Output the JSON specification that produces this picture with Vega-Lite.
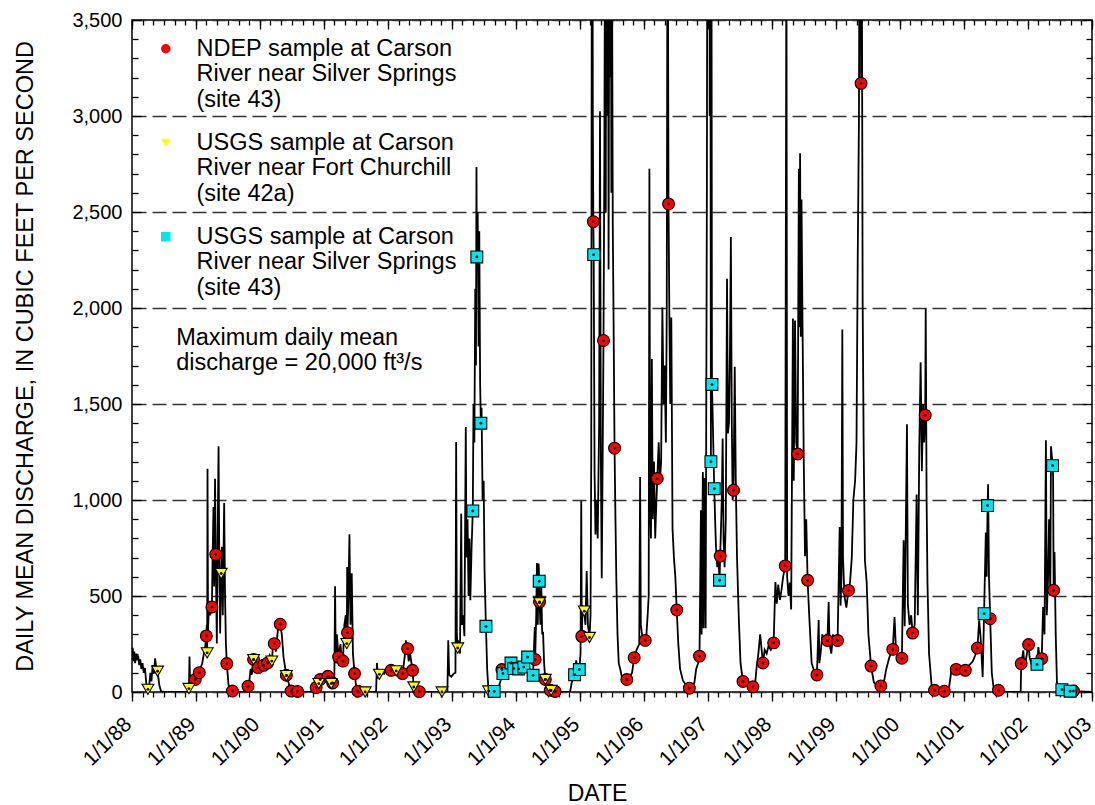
{
  "$schema": "https://vega.github.io/schema/vega-lite/v6.json",
  "width": 960,
  "height": 672,
  "autosize": {"type": "none"},
  "padding": {"left": 132, "top": 20, "right": 3, "bottom": 113},
  "background": "white",
  "config": {
    "font": "Liberation Sans",
    "view": {"stroke": "black", "strokeWidth": 1.5},
    "axis": {"domain": false, "grid": false, "labelFont": "Liberation Sans", "titleFont": "Liberation Sans", "tickColor": "black", "tickWidth": 1.3, "labelColor": "black", "titleColor": "black", "titleFontWeight": "normal", "labelFlush": false, "labelOverlap": false}
  },
  "datasets": {
    "flow": [
      {"d":"1988-01-01","q":182},{"d":"1988-01-05","q":230},{"d":"1988-01-09","q":160},{"d":"1988-01-14","q":210},{"d":"1988-01-19","q":150},{"d":"1988-01-24","q":200},{"d":"1988-01-30","q":165},{"d":"1988-02-05","q":190},{"d":"1988-02-11","q":140},{"d":"1988-02-17","q":170},{"d":"1988-02-23","q":120},{"d":"1988-03-01","q":150},{"d":"1988-03-08","q":100},{"d":"1988-03-15","q":125},{"d":"1988-03-22","q":50},{"d":"1988-03-28","q":15},{"d":"1988-04-01","q":14},{"d":"1988-04-08","q":30},{"d":"1988-04-15","q":100},{"d":"1988-04-21","q":55},{"d":"1988-04-28","q":140},{"d":"1988-05-05","q":95},{"d":"1988-05-12","q":175},{"d":"1988-05-19","q":120},{"d":"1988-05-26","q":108},{"d":"1988-06-05","q":35},{"d":"1988-06-15","q":3},{"d":"1988-07-01","q":0},{"d":"1988-11-15","q":0},{"d":"1988-11-19","q":10},{"d":"1988-11-21","q":18},{"d":"1988-11-24","q":185},{"d":"1988-11-28","q":40},{"d":"1988-12-05","q":30},{"d":"1988-12-12","q":50},{"d":"1988-12-20","q":45},{"d":"1988-12-27","q":65},
      {"d":"1989-01-05","q":80},{"d":"1989-01-12","q":90},{"d":"1989-01-19","q":101},{"d":"1989-01-28","q":130},{"d":"1989-02-05","q":150},{"d":"1989-02-14","q":200},{"d":"1989-02-22","q":240},{"d":"1989-02-28","q":292},{"d":"1989-03-03","q":350},{"d":"1989-03-05","q":204},{"d":"1989-03-07","q":1163},{"d":"1989-03-10","q":320},{"d":"1989-03-15","q":450},{"d":"1989-03-22","q":400},{"d":"1989-04-01","q":443},{"d":"1989-04-05","q":700},{"d":"1989-04-10","q":964},{"d":"1989-04-14","q":550},{"d":"1989-04-19","q":1111},{"d":"1989-04-23","q":717},{"d":"1989-04-29","q":253},{"d":"1989-05-04","q":800},{"d":"1989-05-09","q":1280},{"d":"1989-05-13","q":700},{"d":"1989-05-18","q":305},{"d":"1989-05-24","q":617},{"d":"1989-05-28","q":756},{"d":"1989-06-02","q":400},{"d":"1989-06-10","q":984},{"d":"1989-06-15","q":500},{"d":"1989-06-20","q":250},{"d":"1989-06-25","q":148},{"d":"1989-07-05","q":35},{"d":"1989-07-27","q":5},{"d":"1989-08-15","q":0},{"d":"1989-10-12","q":0},{"d":"1989-10-24","q":30},{"d":"1989-11-01","q":60},{"d":"1989-11-08","q":120},{"d":"1989-11-15","q":90},{"d":"1989-11-25","q":169},{"d":"1989-12-05","q":150},{"d":"1989-12-20","q":127},
      {"d":"1990-01-05","q":145},{"d":"1990-01-21","q":139},{"d":"1990-02-01","q":170},{"d":"1990-02-13","q":151},{"d":"1990-02-25","q":190},{"d":"1990-03-09","q":161},{"d":"1990-03-15","q":230},{"d":"1990-03-23","q":252},{"d":"1990-04-01","q":210},{"d":"1990-04-10","q":300},{"d":"1990-04-19","q":380},{"d":"1990-04-26","q":353},{"d":"1990-05-05","q":300},{"d":"1990-05-15","q":180},{"d":"1990-05-31","q":87},{"d":"1990-06-15","q":40},{"d":"1990-06-27","q":5},{"d":"1990-08-03","q":3},{"d":"1990-09-01","q":0},{"d":"1990-11-08","q":0},{"d":"1990-11-17","q":23},{"d":"1990-11-25","q":40},{"d":"1990-12-02","q":44},{"d":"1990-12-10","q":65},{"d":"1990-12-25","q":70},
      {"d":"1991-01-10","q":60},{"d":"1991-01-23","q":82},{"d":"1991-02-05","q":50},{"d":"1991-02-11","q":44},{"d":"1991-02-19","q":47},{"d":"1991-03-01","q":80},{"d":"1991-03-05","q":551},{"d":"1991-03-09","q":150},{"d":"1991-03-15","q":300},{"d":"1991-03-25","q":182},{"d":"1991-04-05","q":250},{"d":"1991-04-12","q":150},{"d":"1991-04-19","q":161},{"d":"1991-04-27","q":350},{"d":"1991-05-05","q":400},{"d":"1991-05-11","q":252},{"d":"1991-05-13","q":651},{"d":"1991-05-15","q":309},{"d":"1991-05-20","q":500},{"d":"1991-05-26","q":821},{"d":"1991-06-01","q":350},{"d":"1991-06-08","q":618},{"d":"1991-06-15","q":200},{"d":"1991-06-24","q":96},{"d":"1991-07-05","q":20},{"d":"1991-07-13","q":4},{"d":"1991-08-24","q":0},{"d":"1991-10-25","q":0},{"d":"1991-10-30","q":151},{"d":"1991-11-05","q":80},{"d":"1991-11-13","q":92},{"d":"1991-11-25","q":100},{"d":"1991-12-10","q":95},{"d":"1991-12-25","q":125},
      {"d":"1992-01-10","q":105},{"d":"1992-01-19","q":113},{"d":"1992-02-05","q":120},{"d":"1992-02-17","q":110},{"d":"1992-03-05","q":130},{"d":"1992-03-15","q":110},{"d":"1992-03-24","q":96},{"d":"1992-04-05","q":180},{"d":"1992-04-12","q":269},{"d":"1992-04-17","q":200},{"d":"1992-04-22","q":226},{"d":"1992-04-28","q":160},{"d":"1992-05-06","q":200},{"d":"1992-05-20","q":113},{"d":"1992-05-27","q":26},{"d":"1992-06-10","q":5},{"d":"1992-06-28","q":2},{"d":"1992-07-15","q":0},{"d":"1992-12-05","q":0},{"d":"1992-12-10","q":269},{"d":"1992-12-15","q":90},{"d":"1992-12-28","q":80},
      {"d":"1993-01-10","q":95},{"d":"1993-01-20","q":100},{"d":"1993-01-24","q":1302},{"d":"1993-01-28","q":300},{"d":"1993-02-02","q":229},{"d":"1993-02-08","q":269},{"d":"1993-02-15","q":200},{"d":"1993-02-22","q":929},{"d":"1993-02-26","q":350},{"d":"1993-03-05","q":400},{"d":"1993-03-12","q":290},{"d":"1993-03-20","q":1380},{"d":"1993-03-24","q":700},{"d":"1993-03-30","q":900},{"d":"1993-04-05","q":500},{"d":"1993-04-10","q":800},{"d":"1993-04-15","q":478},{"d":"1993-04-22","q":750},{"d":"1993-04-29","q":943},{"d":"1993-05-03","q":1500},{"d":"1993-05-08","q":1300},{"d":"1993-05-13","q":2100},{"d":"1993-05-17","q":1700},{"d":"1993-05-20","q":2734},{"d":"1993-05-22","q":2266},{"d":"1993-05-27","q":2500},{"d":"1993-06-01","q":1800},{"d":"1993-06-05","q":2400},{"d":"1993-06-10","q":1600},{"d":"1993-06-14","q":1400},{"d":"1993-06-18","q":1480},{"d":"1993-06-24","q":1000},{"d":"1993-06-30","q":1100},{"d":"1993-07-05","q":634},{"d":"1993-07-13","q":342},{"d":"1993-07-20","q":120},{"d":"1993-07-28","q":5},{"d":"1993-08-29","q":3},{"d":"1993-09-15","q":0},{"d":"1993-10-05","q":60},{"d":"1993-10-12","q":117},{"d":"1993-10-18","q":96},{"d":"1993-10-28","q":110},{"d":"1993-11-10","q":130},{"d":"1993-11-25","q":140},{"d":"1993-12-03","q":151},{"d":"1993-12-18","q":122},
      {"d":"1994-01-01","q":125},{"d":"1994-01-16","q":120},{"d":"1994-02-01","q":140},{"d":"1994-02-14","q":130},{"d":"1994-02-25","q":160},{"d":"1994-03-08","q":182},{"d":"1994-03-20","q":120},{"d":"1994-04-01","q":100},{"d":"1994-04-08","q":87},{"d":"1994-04-14","q":250},{"d":"1994-04-18","q":339},{"d":"1994-04-20","q":169},{"d":"1994-04-26","q":400},{"d":"1994-04-30","q":672},{"d":"1994-05-05","q":350},{"d":"1994-05-10","q":669},{"d":"1994-05-13","q":577},{"d":"1994-05-15","q":469},{"d":"1994-05-20","q":350},{"d":"1994-05-25","q":547},{"d":"1994-05-30","q":300},{"d":"1994-06-04","q":313},{"d":"1994-06-10","q":150},{"d":"1994-06-17","q":65},{"d":"1994-06-28","q":20},{"d":"1994-07-15","q":9},{"d":"1994-08-12","q":3},{"d":"1994-09-01","q":0},{"d":"1994-11-05","q":0},{"d":"1994-11-15","q":50},{"d":"1994-12-01","q":90},{"d":"1994-12-10","q":165},{"d":"1994-12-20","q":100},{"d":"1994-12-28","q":117},
      {"d":"1995-01-04","q":200},{"d":"1995-01-08","q":995},{"d":"1995-01-11","q":290},{"d":"1995-01-16","q":450},{"d":"1995-01-25","q":421},{"d":"1995-02-01","q":350},{"d":"1995-02-08","q":630},{"d":"1995-02-15","q":350},{"d":"1995-02-24","q":284},{"d":"1995-03-02","q":400},{"d":"1995-03-06","q":1200},{"d":"1995-03-11","q":5500},{"d":"1995-03-15","q":3000},{"d":"1995-03-18","q":2450},{"d":"1995-03-20","q":2278},{"d":"1995-03-25","q":1145},{"d":"1995-03-30","q":820},{"d":"1995-04-05","q":1000},{"d":"1995-04-12","q":800},{"d":"1995-04-20","q":1400},{"d":"1995-04-25","q":3025},{"d":"1995-04-30","q":1200},{"d":"1995-05-05","q":592},{"d":"1995-05-10","q":1200},{"d":"1995-05-15","q":1831},{"d":"1995-05-20","q":2800},{"d":"1995-05-24","q":4200},{"d":"1995-05-28","q":2500},{"d":"1995-06-01","q":5200},{"d":"1995-06-05","q":3000},{"d":"1995-06-09","q":4800},{"d":"1995-06-13","q":2200},{"d":"1995-06-17","q":4000},{"d":"1995-06-21","q":3200},{"d":"1995-06-25","q":4500},{"d":"1995-06-29","q":2600},{"d":"1995-07-03","q":3700},{"d":"1995-07-07","q":2424},{"d":"1995-07-11","q":1993},{"d":"1995-07-17","q":1270},{"d":"1995-07-22","q":915},{"d":"1995-07-27","q":600},{"d":"1995-08-03","q":300},{"d":"1995-08-10","q":150},{"d":"1995-08-20","q":113},{"d":"1995-09-01","q":60},{"d":"1995-09-25","q":65},{"d":"1995-10-10","q":80},{"d":"1995-10-25","q":100},{"d":"1995-11-06","q":179},{"d":"1995-11-20","q":220},{"d":"1995-12-05","q":250},{"d":"1995-12-10","q":1120},{"d":"1995-12-14","q":350},{"d":"1995-12-25","q":270},
      {"d":"1996-01-08","q":269},{"d":"1996-01-15","q":300},{"d":"1996-01-22","q":400},{"d":"1996-01-28","q":500},{"d":"1996-02-01","q":2725},{"d":"1996-02-05","q":1000},{"d":"1996-02-10","q":800},{"d":"1996-02-15","q":1735},{"d":"1996-02-20","q":900},{"d":"1996-02-27","q":1200},{"d":"1996-03-05","q":800},{"d":"1996-03-12","q":1000},{"d":"1996-03-17","q":1112},{"d":"1996-03-25","q":1300},{"d":"1996-04-01","q":1100},{"d":"1996-04-08","q":1200},{"d":"1996-04-15","q":2003},{"d":"1996-04-22","q":1500},{"d":"1996-04-28","q":1700},{"d":"1996-05-05","q":1300},{"d":"1996-05-10","q":2000},{"d":"1996-05-15","q":4500},{"d":"1996-05-20","q":2542},{"d":"1996-05-25","q":1945},{"d":"1996-05-30","q":1500},{"d":"1996-06-05","q":1950},{"d":"1996-06-12","q":850},{"d":"1996-06-20","q":700},{"d":"1996-06-28","q":600},{"d":"1996-07-06","q":427},{"d":"1996-07-15","q":250},{"d":"1996-07-25","q":120},{"d":"1996-08-10","q":60},{"d":"1996-09-01","q":30},{"d":"1996-09-16","q":20},{"d":"1996-10-01","q":20},{"d":"1996-10-15","q":50},{"d":"1996-10-25","q":120},{"d":"1996-11-05","q":150},{"d":"1996-11-13","q":187},{"d":"1996-11-21","q":946},{"d":"1996-11-25","q":300},{"d":"1996-12-02","q":1146},{"d":"1996-12-06","q":332},{"d":"1996-12-12","q":1115},{"d":"1996-12-18","q":332},{"d":"1996-12-25","q":2611},{"d":"1996-12-29","q":5000},
      {"d":"1997-01-02","q":20000},{"d":"1997-01-06","q":8000},{"d":"1997-01-10","q":3000},{"d":"1997-01-13","q":5000},{"d":"1997-01-17","q":1200},{"d":"1997-01-20","q":4200},{"d":"1997-01-23","q":1602},{"d":"1997-01-28","q":1400},{"d":"1997-02-05","q":1059},{"d":"1997-02-10","q":900},{"d":"1997-02-15","q":755},{"d":"1997-02-22","q":650},{"d":"1997-03-01","q":700},{"d":"1997-03-07","q":582},{"d":"1997-03-11","q":708},{"d":"1997-03-20","q":1000},{"d":"1997-03-25","q":1320},{"d":"1997-03-30","q":800},{"d":"1997-04-05","q":650},{"d":"1997-04-12","q":900},{"d":"1997-04-19","q":2152},{"d":"1997-04-24","q":1347},{"d":"1997-04-30","q":1400},{"d":"1997-05-06","q":1800},{"d":"1997-05-11","q":2370},{"d":"1997-05-16","q":1420},{"d":"1997-05-21","q":1000},{"d":"1997-05-26","q":1051},{"d":"1997-06-02","q":1694},{"d":"1997-06-08","q":1100},{"d":"1997-06-15","q":700},{"d":"1997-06-25","q":390},{"d":"1997-07-05","q":150},{"d":"1997-07-19","q":55},{"d":"1997-08-10","q":40},{"d":"1997-09-14","q":27},{"d":"1997-09-25","q":30},{"d":"1997-10-05","q":130},{"d":"1997-10-15","q":200},{"d":"1997-10-25","q":300},{"d":"1997-11-10","q":151},{"d":"1997-11-20","q":220},{"d":"1997-12-01","q":200},{"d":"1997-12-12","q":240},{"d":"1997-12-25","q":220},
      {"d":"1998-01-10","q":256},{"d":"1998-01-20","q":573},{"d":"1998-01-28","q":460},{"d":"1998-02-05","q":560},{"d":"1998-02-15","q":480},{"d":"1998-02-25","q":540},{"d":"1998-03-05","q":600},{"d":"1998-03-17","q":657},{"d":"1998-03-24","q":4000},{"d":"1998-03-28","q":600},{"d":"1998-04-05","q":500},{"d":"1998-04-12","q":570},{"d":"1998-04-20","q":430},{"d":"1998-04-30","q":1945},{"d":"1998-05-05","q":1100},{"d":"1998-05-12","q":1935},{"d":"1998-05-19","q":1300},{"d":"1998-05-27","q":1240},{"d":"1998-06-03","q":2725},{"d":"1998-06-07","q":1900},{"d":"1998-06-10","q":2806},{"d":"1998-06-14","q":1850},{"d":"1998-06-18","q":2565},{"d":"1998-06-24","q":1900},{"d":"1998-07-01","q":1200},{"d":"1998-07-08","q":707},{"d":"1998-07-15","q":900},{"d":"1998-07-23","q":582},{"d":"1998-08-01","q":400},{"d":"1998-08-15","q":150},{"d":"1998-09-01","q":100},{"d":"1998-09-14","q":89},{"d":"1998-09-24","q":375},{"d":"1998-09-28","q":150},{"d":"1998-10-05","q":200},{"d":"1998-10-15","q":300},{"d":"1998-10-25","q":250},{"d":"1998-11-05","q":290},{"d":"1998-11-13","q":268},{"d":"1998-11-20","q":469},{"d":"1998-11-25","q":250},{"d":"1998-12-05","q":200},{"d":"1998-12-15","q":300},{"d":"1998-12-28","q":250},
      {"d":"1999-01-10","q":268},{"d":"1999-01-22","q":859},{"d":"1999-01-27","q":450},{"d":"1999-02-01","q":600},{"d":"1999-02-06","q":1888},{"d":"1999-02-10","q":700},{"d":"1999-02-18","q":500},{"d":"1999-03-01","q":440},{"d":"1999-03-13","q":529},{"d":"1999-03-22","q":570},{"d":"1999-04-01","q":700},{"d":"1999-04-10","q":1000},{"d":"1999-04-20","q":1100},{"d":"1999-04-28","q":1300},{"d":"1999-05-05","q":2260},{"d":"1999-05-12","q":3000},{"d":"1999-05-19","q":5500},{"d":"1999-05-24","q":3170},{"d":"1999-05-28","q":4000},{"d":"1999-06-02","q":2037},{"d":"1999-06-08","q":1259},{"d":"1999-06-15","q":686},{"d":"1999-06-25","q":571},{"d":"1999-07-05","q":300},{"d":"1999-07-20","q":135},{"d":"1999-08-05","q":50},{"d":"1999-08-25","q":30},{"d":"1999-09-14","q":32},{"d":"1999-10-01","q":50},{"d":"1999-10-15","q":120},{"d":"1999-11-01","q":180},{"d":"1999-11-21","q":222},{"d":"1999-12-01","q":390},{"d":"1999-12-10","q":200},{"d":"1999-12-25","q":180},
      {"d":"2000-01-12","q":176},{"d":"2000-01-22","q":790},{"d":"2000-01-28","q":342},{"d":"2000-02-10","q":1394},{"d":"2000-02-15","q":456},{"d":"2000-02-25","q":350},{"d":"2000-03-05","q":400},{"d":"2000-03-13","q":307},{"d":"2000-03-25","q":350},{"d":"2000-04-05","q":1029},{"d":"2000-04-12","q":400},{"d":"2000-04-20","q":1258},{"d":"2000-04-28","q":1717},{"d":"2000-05-05","q":1150},{"d":"2000-05-12","q":1500},{"d":"2000-05-18","q":1300},{"d":"2000-05-24","q":1442},{"d":"2000-05-27","q":1998},{"d":"2000-06-01","q":1000},{"d":"2000-06-06","q":571},{"d":"2000-06-15","q":200},{"d":"2000-06-30","q":30},{"d":"2000-07-16","q":9},{"d":"2000-09-10","q":4},{"d":"2000-10-01","q":3},{"d":"2000-10-10","q":40},{"d":"2000-10-20","q":110},{"d":"2000-11-05","q":120},{"d":"2000-11-17","q":118},{"d":"2000-12-01","q":130},{"d":"2000-12-15","q":115},
      {"d":"2001-01-08","q":113},{"d":"2001-01-20","q":130},{"d":"2001-02-05","q":145},{"d":"2001-02-20","q":160},{"d":"2001-03-05","q":190},{"d":"2001-03-18","q":229},{"d":"2001-03-28","q":373},{"d":"2001-04-05","q":287},{"d":"2001-04-17","q":78},{"d":"2001-04-25","q":408},{"d":"2001-05-05","q":830},{"d":"2001-05-10","q":600},{"d":"2001-05-15","q":971},{"d":"2001-05-18","q":1082},{"d":"2001-05-23","q":600},{"d":"2001-05-30","q":382},{"d":"2001-06-08","q":100},{"d":"2001-06-20","q":10},{"d":"2001-07-16","q":9},{"d":"2001-09-01","q":0},{"d":"2001-11-20","q":0},{"d":"2001-11-23","q":148},{"d":"2001-12-05","q":217},{"d":"2001-12-12","q":130},
      {"d":"2002-01-04","q":247},{"d":"2002-01-10","q":180},{"d":"2002-01-25","q":130},{"d":"2002-02-10","q":140},{"d":"2002-02-21","q":144},{"d":"2002-03-01","q":234},{"d":"2002-03-10","q":160},{"d":"2002-03-20","q":174},{"d":"2002-03-28","q":443},{"d":"2002-04-05","q":300},{"d":"2002-04-13","q":1311},{"d":"2002-04-18","q":400},{"d":"2002-04-25","q":582},{"d":"2002-05-01","q":900},{"d":"2002-05-08","q":500},{"d":"2002-05-12","q":1280},{"d":"2002-05-21","q":1179},{"d":"2002-05-24","q":1129},{"d":"2002-05-27","q":530},{"d":"2002-06-01","q":729},{"d":"2002-06-08","q":300},{"d":"2002-06-15","q":50},{"d":"2002-06-25","q":15},{"d":"2002-07-13","q":12},{"d":"2002-08-29","q":4},{"d":"2002-09-17","q":5},{"d":"2002-12-31","q":0}
    ],
    "samples": [
      {"d":"1988-12-27","q":65,"s":"NDEP"},{"d":"1989-01-19","q":101,"s":"NDEP"},{"d":"1989-02-28","q":292,"s":"NDEP"},{"d":"1989-04-01","q":443,"s":"NDEP"},{"d":"1989-04-23","q":717,"s":"NDEP"},{"d":"1989-06-25","q":148,"s":"NDEP"},{"d":"1989-07-27","q":5,"s":"NDEP"},{"d":"1989-10-24","q":30,"s":"NDEP"},{"d":"1989-11-25","q":169,"s":"NDEP"},{"d":"1989-12-20","q":127,"s":"NDEP"},{"d":"1990-01-21","q":139,"s":"NDEP"},{"d":"1990-02-13","q":151,"s":"NDEP"},{"d":"1990-03-23","q":252,"s":"NDEP"},{"d":"1990-04-26","q":353,"s":"NDEP"},{"d":"1990-05-31","q":87,"s":"NDEP"},{"d":"1990-06-27","q":5,"s":"NDEP"},{"d":"1990-08-03","q":3,"s":"NDEP"},{"d":"1990-11-17","q":23,"s":"NDEP"},{"d":"1990-12-10","q":65,"s":"NDEP"},{"d":"1991-01-23","q":82,"s":"NDEP"},{"d":"1991-02-19","q":47,"s":"NDEP"},{"d":"1991-03-25","q":182,"s":"NDEP"},{"d":"1991-04-19","q":161,"s":"NDEP"},{"d":"1991-05-15","q":309,"s":"NDEP"},{"d":"1991-06-24","q":96,"s":"NDEP"},{"d":"1991-07-13","q":4,"s":"NDEP"},{"d":"1992-01-19","q":113,"s":"NDEP"},{"d":"1992-03-24","q":96,"s":"NDEP"},{"d":"1992-04-22","q":226,"s":"NDEP"},{"d":"1992-05-20","q":113,"s":"NDEP"},{"d":"1992-06-28","q":2,"s":"NDEP"},{"d":"1993-10-12","q":117,"s":"NDEP"},{"d":"1994-04-20","q":169,"s":"NDEP"},{"d":"1994-05-15","q":469,"s":"NDEP"},{"d":"1994-06-17","q":65,"s":"NDEP"},{"d":"1994-07-15","q":9,"s":"NDEP"},{"d":"1994-08-12","q":3,"s":"NDEP"},{"d":"1995-01-11","q":290,"s":"NDEP"},{"d":"1995-03-18","q":2450,"s":"NDEP"},{"d":"1995-05-15","q":1831,"s":"NDEP"},{"d":"1995-07-17","q":1270,"s":"NDEP"},{"d":"1995-09-25","q":65,"s":"NDEP"},{"d":"1995-11-06","q":179,"s":"NDEP"},{"d":"1996-01-08","q":269,"s":"NDEP"},{"d":"1996-03-17","q":1112,"s":"NDEP"},{"d":"1996-05-20","q":2542,"s":"NDEP"},{"d":"1996-07-06","q":427,"s":"NDEP"},{"d":"1996-09-16","q":20,"s":"NDEP"},{"d":"1996-11-13","q":187,"s":"NDEP"},{"d":"1997-03-11","q":708,"s":"NDEP"},{"d":"1997-05-26","q":1051,"s":"NDEP"},{"d":"1997-07-19","q":55,"s":"NDEP"},{"d":"1997-09-14","q":27,"s":"NDEP"},{"d":"1997-11-10","q":151,"s":"NDEP"},{"d":"1998-01-10","q":256,"s":"NDEP"},{"d":"1998-03-17","q":657,"s":"NDEP"},{"d":"1998-05-27","q":1240,"s":"NDEP"},{"d":"1998-07-23","q":582,"s":"NDEP"},{"d":"1998-09-14","q":89,"s":"NDEP"},{"d":"1998-11-13","q":268,"s":"NDEP"},{"d":"1999-01-10","q":268,"s":"NDEP"},{"d":"1999-03-13","q":529,"s":"NDEP"},{"d":"1999-05-24","q":3170,"s":"NDEP"},{"d":"1999-07-20","q":135,"s":"NDEP"},{"d":"1999-09-14","q":32,"s":"NDEP"},{"d":"1999-11-21","q":222,"s":"NDEP"},{"d":"2000-01-12","q":176,"s":"NDEP"},{"d":"2000-03-13","q":307,"s":"NDEP"},{"d":"2000-05-24","q":1442,"s":"NDEP"},{"d":"2000-07-16","q":9,"s":"NDEP"},{"d":"2000-09-10","q":4,"s":"NDEP"},{"d":"2000-11-17","q":118,"s":"NDEP"},{"d":"2001-01-08","q":113,"s":"NDEP"},{"d":"2001-03-18","q":229,"s":"NDEP"},{"d":"2001-05-30","q":382,"s":"NDEP"},{"d":"2001-07-16","q":9,"s":"NDEP"},{"d":"2001-11-23","q":148,"s":"NDEP"},{"d":"2002-01-04","q":247,"s":"NDEP"},{"d":"2002-03-20","q":174,"s":"NDEP"},{"d":"2002-05-27","q":530,"s":"NDEP"},{"d":"2002-09-17","q":5,"s":"NDEP"},
      {"d":"1988-04-01","q":14,"s":"USGS42a"},{"d":"1988-05-26","q":108,"s":"USGS42a"},{"d":"1988-11-21","q":18,"s":"USGS42a"},{"d":"1989-03-05","q":204,"s":"USGS42a"},{"d":"1989-05-24","q":617,"s":"USGS42a"},{"d":"1989-11-25","q":169,"s":"USGS42a"},{"d":"1990-03-09","q":161,"s":"USGS42a"},{"d":"1990-05-31","q":85,"s":"USGS42a"},{"d":"1990-12-02","q":44,"s":"USGS42a"},{"d":"1991-02-11","q":44,"s":"USGS42a"},{"d":"1991-05-11","q":252,"s":"USGS42a"},{"d":"1991-08-24","q":0,"s":"USGS42a"},{"d":"1991-11-13","q":92,"s":"USGS42a"},{"d":"1992-02-17","q":110,"s":"USGS42a"},{"d":"1992-05-27","q":26,"s":"USGS42a"},{"d":"1992-11-04","q":0,"s":"USGS42a"},{"d":"1993-02-02","q":229,"s":"USGS42a"},{"d":"1993-07-28","q":5,"s":"USGS42a"},{"d":"1994-05-15","q":465,"s":"USGS42a"},{"d":"1994-06-17","q":65,"s":"USGS42a"},{"d":"1994-07-20","q":8,"s":"USGS42a"},{"d":"1995-01-25","q":421,"s":"USGS42a"},{"d":"1995-02-24","q":284,"s":"USGS42a"},
      {"d":"1993-04-29","q":943,"s":"USGS43"},{"d":"1993-05-22","q":2266,"s":"USGS43"},{"d":"1993-06-14","q":1400,"s":"USGS43"},{"d":"1993-07-13","q":342,"s":"USGS43"},{"d":"1993-08-29","q":3,"s":"USGS43"},{"d":"1993-10-18","q":96,"s":"USGS43"},{"d":"1993-12-03","q":151,"s":"USGS43"},{"d":"1993-12-18","q":122,"s":"USGS43"},{"d":"1994-01-16","q":120,"s":"USGS43"},{"d":"1994-02-14","q":130,"s":"USGS43"},{"d":"1994-03-08","q":182,"s":"USGS43"},{"d":"1994-04-08","q":87,"s":"USGS43"},{"d":"1994-05-13","q":577,"s":"USGS43"},{"d":"1994-12-01","q":90,"s":"USGS43"},{"d":"1994-12-28","q":117,"s":"USGS43"},{"d":"1995-03-20","q":2278,"s":"USGS43"},{"d":"1997-01-17","q":1200,"s":"USGS43"},{"d":"1997-01-23","q":1602,"s":"USGS43"},{"d":"1997-02-05","q":1059,"s":"USGS43"},{"d":"1997-03-07","q":582,"s":"USGS43"},{"d":"2001-04-25","q":408,"s":"USGS43"},{"d":"2001-05-15","q":971,"s":"USGS43"},{"d":"2002-02-21","q":144,"s":"USGS43"},{"d":"2002-05-21","q":1179,"s":"USGS43"},{"d":"2002-07-13","q":12,"s":"USGS43"},{"d":"2002-08-29","q":4,"s":"USGS43"}
    ]
  },
  "layer": [
    {
      "data": {"name": "flow"},
      "mark": {"type": "line", "color": "black", "strokeWidth": 1.8, "clip": true},
      "encoding": {
        "x": {"field": "d", "type": "temporal",
          "scale": {"type": "utc", "domain": [{"year": 1988, "month": 1, "date": 1, "utc": true}, {"year": 2003, "month": 1, "date": 1, "utc": true}]},
          "axis": {"orient": "bottom", "title": "DATE", "titleFontSize": 23, "titleBaseline": "alphabetic", "titleY": 108, "titleX": 465, "format": "%-m/%-d/%y", "tickCount": {"interval": "year", "step": 1}, "labelAngle": -45, "labelAlign": "right", "labelBaseline": "middle", "labelFontSize": 21, "tickSize": 9, "labelPadding": 20, "labelOffset": -4}},
        "y": {"field": "q", "type": "quantitative",
          "scale": {"domain": [0, 3500], "nice": false},
          "axis": {"orient": "left", "title": "DAILY MEAN DISCHARGE, IN CUBIC FEET PER SECOND", "titleFontSize": 23.5, "titleX": -100, "titleBaseline": "alphabetic", "values": [0, 500, 1000, 1500, 2000, 2500, 3000, 3500], "format": ",d", "labelFontSize": 20, "ticks": false, "labelPadding": 10, "grid": true, "gridDash": [14, 6], "gridColor": "#333333", "gridWidth": 1.4}}
      }
    },
    {
      "data": {"name": "samples"},
      "mark": {"type": "point", "filled": true, "stroke": "black", "strokeWidth": 1.1, "opacity": 1, "size": 140},
      "encoding": {
        "x": {"field": "d", "type": "temporal",
          "scale": {"type": "utc", "domain": [{"year": 1988, "month": 1, "date": 1, "utc": true}, {"year": 2003, "month": 1, "date": 1, "utc": true}]},
          "axis": {"orient": "bottom", "title": null, "labels": false, "tickCount": {"interval": "month", "step": 2}, "tickSize": 5}},
        "y": {"field": "q", "type": "quantitative",
          "scale": {"domain": [0, 3500], "nice": false},
          "axis": {"orient": "left", "title": null, "labels": false, "values": [100,200,300,400,600,700,800,900,1100,1200,1300,1400,1600,1700,1800,1900,2100,2200,2300,2400,2600,2700,2800,2900,3100,3200,3300,3400], "tickSize": -6}},
        "fill": {"field": "s", "type": "nominal",
          "scale": {"domain": ["NDEP", "USGS42a", "USGS43"], "range": ["#ff0000", "#ffff00", "#00e5ee"]},
          "legend": {"orient": "none", "legendX": 22, "legendY": 17, "title": null, "padding": 0,
            "labelExpr": "datum.label == 'NDEP' ? ['NDEP sample at Carson', 'River near Silver Springs', '(site 43)'] : datum.label == 'USGS42a' ? ['USGS sample at Carson', 'River near Fort Churchill', '(site 42a)'] : ['USGS sample at Carson', 'River near Silver Springs', '(site 43)']",
            "labelFontSize": 23.5, "labelFont": "Liberation Sans", "labelColor": "black", "labelLimit": 0, "labelOffset": 19, "labelBaseline": "middle",
            "symbolSize": 90, "symbolStrokeColor": "black", "symbolStrokeWidth": 1, "rowPadding": 18}},
        "shape": {"field": "s", "type": "nominal",
          "scale": {"domain": ["NDEP", "USGS42a", "USGS43"], "range": ["circle", "triangle-down", "square"]},
          "legend": {"orient": "none", "legendX": 22, "legendY": 17, "title": null, "padding": 0,
            "labelExpr": "datum.label == 'NDEP' ? ['NDEP sample at Carson', 'River near Silver Springs', '(site 43)'] : datum.label == 'USGS42a' ? ['USGS sample at Carson', 'River near Fort Churchill', '(site 42a)'] : ['USGS sample at Carson', 'River near Silver Springs', '(site 43)']",
            "labelFontSize": 23.5, "labelFont": "Liberation Sans", "labelColor": "black", "labelLimit": 0, "labelOffset": 19, "labelBaseline": "middle",
            "symbolSize": 90, "symbolStrokeColor": "black", "symbolStrokeWidth": 1, "rowPadding": 18}}
      }
    },
    {
      "data": {"name": "samples"},
      "mark": {"type": "circle", "color": "black", "size": 8, "opacity": 1},
      "encoding": {
        "x": {"field": "d", "type": "temporal",
          "scale": {"type": "utc", "domain": [{"year": 1988, "month": 1, "date": 1, "utc": true}, {"year": 2003, "month": 1, "date": 1, "utc": true}]},
          "axis": {"orient": "top", "title": null, "labels": false, "tickCount": {"interval": "year", "step": 1}, "tickSize": -9}},
        "y": {"field": "q", "type": "quantitative",
          "scale": {"domain": [0, 3500], "nice": false},
          "axis": {"orient": "right", "title": null, "labels": false, "values": [0, 500, 1000, 1500, 2000, 2500, 3000, 3500], "tickSize": -9}}
      }
    },
    {
      "data": {"name": "samples"},
      "mark": {"type": "point", "opacity": 0},
      "encoding": {
        "x": {"field": "d", "type": "temporal",
          "scale": {"type": "utc", "domain": [{"year": 1988, "month": 1, "date": 1, "utc": true}, {"year": 2003, "month": 1, "date": 1, "utc": true}]},
          "axis": {"orient": "top", "title": null, "labels": false, "tickCount": {"interval": "month", "step": 2}, "tickSize": -5}},
        "y": {"field": "q", "type": "quantitative",
          "scale": {"domain": [0, 3500], "nice": false},
          "axis": {"orient": "right", "title": null, "labels": false, "values": [100,200,300,400,600,700,800,900,1100,1200,1300,1400,1600,1700,1800,1900,2100,2200,2300,2400,2600,2700,2800,2900,3100,3200,3300,3400], "tickSize": -6}}
      }
    },
    {
      "data": {"values": [{}]},
      "mark": {"type": "text", "align": "left", "baseline": "alphabetic", "fontSize": 23.5, "lineHeight": 25, "font": "Liberation Sans", "color": "black", "text": ["Maximum daily mean", "discharge = 20,000 ft³/s"]},
      "encoding": {
        "x": {"datum": {"year": 1988, "month": 9, "date": 9, "utc": true}, "type": "temporal",
          "scale": {"type": "utc", "domain": [{"year": 1988, "month": 1, "date": 1, "utc": true}, {"year": 2003, "month": 1, "date": 1, "utc": true}]},
          "axis": null},
        "y": {"datum": 1806, "type": "quantitative",
          "scale": {"domain": [0, 3500], "nice": false},
          "axis": {"orient": "left", "title": null, "labels": false, "values": [0, 500, 1000, 1500, 2000, 2500, 3000, 3500], "tickSize": -9}}
      }
    }
  ],
  "resolve": {"axis": {"x": "independent", "y": "independent"}}
}
